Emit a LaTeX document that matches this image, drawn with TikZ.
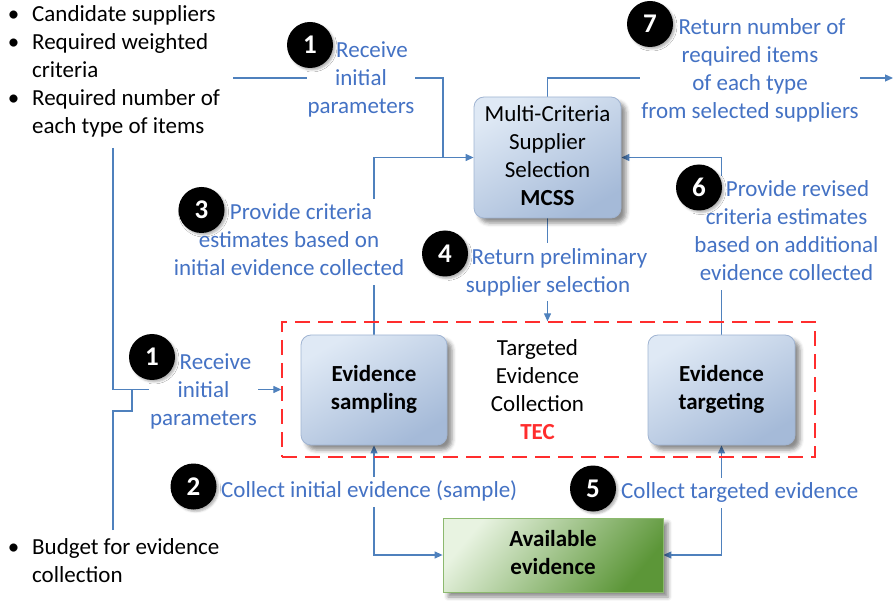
\documentclass[tikz,border=0pt]{standalone}
\usepackage{fontspec}
\setmainfont{Carlito}
\usetikzlibrary{arrows.meta,shadows.blur}

\definecolor{lnblue}{RGB}{79,129,189}
\definecolor{txblue}{RGB}{68,114,196}
\definecolor{boxtop}{RGB}{223,233,245}
\definecolor{boxbot}{RGB}{165,186,216}
\definecolor{boxedge}{RGB}{160,180,210}
\definecolor{grtop}{RGB}{232,243,225}
\definecolor{grbot}{RGB}{92,150,56}
\definecolor{gredge}{RGB}{140,185,110}
\definecolor{tecred}{RGB}{255,45,45}

\pgfdeclarelayer{bg}
\pgfsetlayers{bg,main}

% centred multi-line text block with a fixed line pitch
\newcommand{\txtlines}[1]{\begin{tabular}{@{}c@{}}#1\end{tabular}}
% bullet hanging to the left of the item text
\newcommand{\bul}{\llap{\makebox[37pt][c]{\textbullet}}}

\begin{document}
\begin{tikzpicture}[x=1pt,y=-1pt,
  every node/.style={font={\fontsize{23}{28}\selectfont}},
  link/.style={draw=lnblue, line width=1.2pt},
  arr/.style={link, -{Triangle[length=8pt,width=7pt]}},
  darr/.style={link, {Triangle[length=8pt,width=7pt]}-{Triangle[length=8pt,width=7pt]}},
  procbox/.style={draw=boxedge, line width=0.8pt, rounded corners=10pt,
    top color=boxtop, bottom color=boxbot, shading angle=30, inner sep=0pt,
    blur shadow={shadow xshift=5pt, shadow yshift=-5pt, shadow blur radius=4pt, shadow opacity=45}},
  greenbox/.style={draw=gredge, line width=0.8pt,
    top color=grtop, bottom color=grbot, shading angle=50, inner sep=0pt,
    blur shadow={shadow xshift=5pt, shadow yshift=-5pt, shadow blur radius=4pt, shadow opacity=45}},
  tecframe/.style={draw=tecred, line width=1.3pt, dash pattern=on 15pt off 8pt, inner sep=0pt},
  lbl/.style={text=txblue, fill=white, inner xsep=1pt, inner ysep=1pt},
  stepmark/.style={circle, fill=black, text=white, minimum size=46pt, inner sep=0pt,
    font={\fontsize{27}{30}\selectfont\bfseries},
    blur shadow={shadow xshift=2pt, shadow yshift=-2pt, shadow blur radius=2pt, shadow opacity=30}},
  bullets/.style={anchor=north west, inner sep=0pt}
]
\useasboundingbox (0,0) rectangle (894,601);

% ---- input lists ----
\node[bullets] (inputs) at (32,1.5) {\begin{tabular}{@{}l@{}}
  \bul Candidate suppliers\\
  \bul Required weighted\\
  criteria\\
  \bul Required number of\\
  each type of items\end{tabular}};
\node[bullets] (budget) at (32,535.1) {\begin{tabular}{@{}l@{}}
  \bul Budget for evidence\\
  collection\end{tabular}};

% ---- process boxes ----
\node[procbox, minimum width=147pt, minimum height=121pt] (mcss) at (547.5,157.5)
  {\txtlines{Multi-Criteria\\ Supplier\\ Selection\\ \bfseries MCSS}};
\node[tecframe, minimum width=533pt, minimum height=135pt] (tec) at (548.5,389.5) {};
\node[procbox, minimum width=146pt, minimum height=110pt] (samp) at (374,390)
  {\bfseries\txtlines{Evidence\\ sampling}};
\node[procbox, minimum width=147pt, minimum height=110pt] (targ) at (721.5,390)
  {\bfseries\txtlines{Evidence\\ targeting}};
\node[anchor=north, inner sep=0pt] (tectxt) at (537.5,335.8)
  {\txtlines{Targeted\\ Evidence\\ Collection\\ \textcolor{tecred}{\bfseries TEC}}};
\node[greenbox, minimum width=220pt, minimum height=74pt] (avail) at (553,555)
  {\bfseries\txtlines{Available\\ evidence}};

% ---- step labels ----
\node[lbl, anchor=north] (recv1) at (361,36.8)
  {\txtlines{\hspace*{22pt}Receive\\ initial\\ parameters}};
\node[lbl, anchor=north] (ret7) at (750,13.8)
  {\txtlines{\hspace*{24pt}Return number of\\ required items\\ of each type\\ from selected suppliers}};
\node[lbl, anchor=north] (rev6) at (786.5,175.8)
  {\txtlines{\hspace*{22pt}Provide revised\\ criteria estimates\\ based on additional\\ evidence collected}};
\node[lbl, anchor=north] (crit3) at (289,198.8)
  {\txtlines{\hspace*{24pt}Provide criteria\\ estimates based on\\ initial evidence collected}};
\node[lbl, anchor=north] (prel4) at (548,243.3)
  {\txtlines{\hspace*{23pt}Return preliminary\\ supplier selection}};
\node[lbl, anchor=north] (recv1b) at (203.5,348.3)
  {\txtlines{\hspace*{24pt}Receive\\ initial\\ parameters}};
\node[lbl, anchor=north west] (coll2) at (220,476.8)
  {\txtlines{Collect initial evidence (sample)}};
\node[lbl, anchor=north west] (coll5) at (620,477.8)
  {\txtlines{Collect targeted evidence}};

% ---- step numbers ----
\node[stepmark] (n1) at (310,45) {1};
\node[stepmark] (n7) at (650,24) {7};
\node[stepmark] (n6) at (699,187.5) {6};
\node[stepmark] (n3) at (201.5,210) {3};
\node[stepmark] (n4) at (445,253.5) {4};
\node[stepmark] (n1b) at (152,357) {1};
\node[stepmark] (n2) at (193.5,486.5) {2};
\node[stepmark] (n5) at (593,488.5) {5};

% ---- connectors ----
\coordinate (in1) at (233,78);
\coordinate (j1) at (443,157.5);
\coordinate (out7) at (893,78);
\coordinate (brtop) at (113,148);
\coordinate (brbot) at (113,530);
\coordinate (brj) at (132,389.5);

\begin{pgfonlayer}{bg}
  \draw[arr] (in1) -| (j1) -- (mcss.west);
  \draw[link] (samp.north) |- (j1);
  \draw[arr] (mcss.north) |- (out7);
  \draw[arr] (targ.north) |- (mcss.east);
  \draw[arr] (mcss.south) -- (mcss.south |- tec.north);
  \draw[link] (brtop) |- (recv1b.west |- tec.west);
  \draw[link] (brbot) -- (113,411) -- (132,411) -- (brj);
  \draw[arr] (recv1b.east |- tec.west) -- (tec.west);
  \draw[darr] (samp.south) |- (avail.west);
  \draw[darr] (targ.south) |- (avail.east);
\end{pgfonlayer}
\end{tikzpicture}
\end{document}
